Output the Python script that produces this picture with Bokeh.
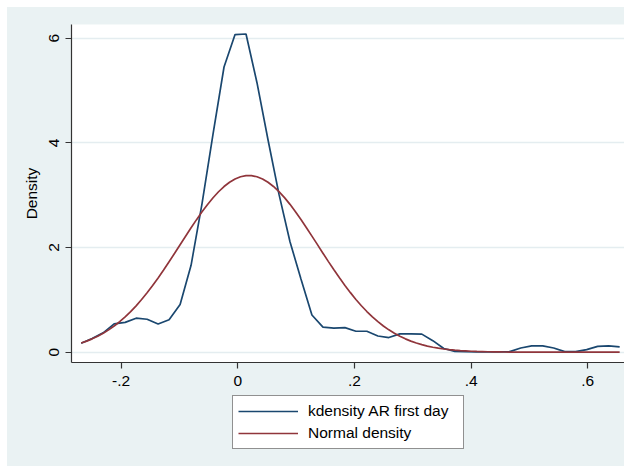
from bokeh.plotting import figure
from bokeh.layouts import column
from bokeh.models import FixedTicker, Legend, LegendItem, Range1d
from bokeh.embed import file_html
from bokeh.resources import INLINE

# ---- data ----
x_grid = [-0.2685, -0.2497, -0.2308, -0.2120, -0.1931, -0.1743, -0.1555, -0.1366, -0.1178, -0.0989,
          -0.0801, -0.0613, -0.0424, -0.0236, -0.0047, 0.0141, 0.0329, 0.0518, 0.0706, 0.0895,
          0.1083, 0.1271, 0.1460, 0.1648, 0.1837, 0.2025, 0.2213, 0.2402, 0.2590, 0.2779,
          0.2967, 0.3155, 0.3344, 0.3532, 0.3721, 0.3909, 0.4097, 0.4286, 0.4474, 0.4663,
          0.4851, 0.5039, 0.5228, 0.5416, 0.5605, 0.5793, 0.5981, 0.6170, 0.6358, 0.6547]

kdensity_ar = [0.17, 0.26, 0.37, 0.54, 0.57, 0.65, 0.63, 0.54, 0.62, 0.91,
               1.66, 2.84, 4.17, 5.45, 6.07, 6.08, 5.15, 4.06, 3.02, 2.11,
               1.40, 0.71, 0.48, 0.46, 0.47, 0.40, 0.40, 0.31, 0.28, 0.35,
               0.35, 0.345, 0.22, 0.07, 0.015, 0.008, 0.006, 0.005, 0.005, 0.01,
               0.08, 0.12, 0.12, 0.08, 0.01, 0.01, 0.05, 0.11, 0.12, 0.10]

x_normal = [-0.2685, -0.2591, -0.2497, -0.2402, -0.2308, -0.2214, -0.2120, -0.2025, -0.1931, -0.1837,
            -0.1743, -0.1649, -0.1555, -0.1460, -0.1366, -0.1272, -0.1178, -0.1083, -0.0989, -0.0895,
            -0.0801, -0.0707, -0.0613, -0.0518, -0.0424, -0.0330, -0.0236, -0.0141, -0.0047, 0.0047,
            0.0141, 0.0235, 0.0329, 0.0424, 0.0518, 0.0612, 0.0706, 0.0801, 0.0895, 0.0989,
            0.1083, 0.1177, 0.1271, 0.1366, 0.1460, 0.1554, 0.1648, 0.1743, 0.1837, 0.1931,
            0.2025, 0.2119, 0.2213, 0.2308, 0.2402, 0.2496, 0.2590, 0.2685, 0.2779, 0.2873,
            0.2967, 0.3061, 0.3155, 0.3250, 0.3344, 0.3438, 0.3532, 0.3627, 0.3721, 0.3815,
            0.3909, 0.4003, 0.4097, 0.4192, 0.4286, 0.4380, 0.4474, 0.4569, 0.4663, 0.4757,
            0.4851, 0.4945, 0.5039, 0.5134, 0.5228, 0.5322, 0.5416, 0.5511, 0.5605, 0.5699,
            0.5793, 0.5887, 0.5981, 0.6076, 0.6170, 0.6264, 0.6358, 0.6453, 0.6547]

normal_density = [0.175, 0.212, 0.255, 0.304, 0.361, 0.426, 0.500, 0.582, 0.674, 0.775,
                  0.886, 1.006, 1.136, 1.274, 1.419, 1.571, 1.729, 1.890, 2.053, 2.216,
                  2.377, 2.533, 2.683, 2.823, 2.951, 3.066, 3.166, 3.247, 3.310, 3.353,
                  3.374, 3.374, 3.353, 3.311, 3.248, 3.167, 3.068, 2.953, 2.825, 2.685,
                  2.535, 2.379, 2.218, 2.055, 1.892, 1.731, 1.574, 1.422, 1.276, 1.138,
                  1.008, 0.888, 0.777, 0.675, 0.583, 0.501, 0.427, 0.362, 0.305, 0.255,
                  0.212, 0.175, 0.144, 0.117, 0.095, 0.077, 0.061, 0.049, 0.039, 0.030,
                  0.024, 0.018, 0.014, 0.011, 0.008, 0.006, 0.005, 0.0035, 0.0026, 0.0019,
                  0.0014, 0.0010, 0.0007, 0.0005, 0.0004, 0.0003, 0.0002, 0.0001, 0.0001, 0.0,
                  0.0, 0.0, 0.0, 0.0, 0.0, 0.0, 0.0, 0.0, 0.0]

x_ticks = [-0.2, 0.0, 0.2, 0.4, 0.6]
x_tick_labels = ["-.2", "0", ".2", ".4", ".6"]
y_ticks = [0, 2, 4, 6]
y_tick_labels = ["0", "2", "4", "6"]
series_names = ["kdensity AR first day", "Normal density"]

n1 = min(len(x_grid), len(kdensity_ar))
n2 = min(len(x_normal), len(normal_density))

NAVY = "#1a476f"
MAROON = "#90353b"
BG = "#eaf2f3"
AX = "#333333"
FONT = "Liberation Sans"
FS = "15.5px"
LW = 1.7

# ---- main plot ----
p = figure(width=617, height=387, output_backend="svg", toolbar_location=None,
           x_range=Range1d(-0.2851, 0.6630), y_range=Range1d(-0.197, 6.262),
           min_border_left=64, min_border_right=0, min_border_top=17, min_border_bottom=32)
p.border_fill_color = BG
p.background_fill_color = "white"
p.outline_line_color = None

p.line(x_grid[:n1], kdensity_ar[:n1], line_color=NAVY, line_width=LW)
p.line(x_normal[:n2], normal_density[:n2], line_color=MAROON, line_width=LW)

p.xaxis.ticker = FixedTicker(ticks=x_ticks)
p.xaxis.major_label_overrides = {t: l for t, l in zip(x_ticks, x_tick_labels)}
p.yaxis.ticker = FixedTicker(ticks=y_ticks)
p.yaxis.major_label_overrides = {t: l for t, l in zip(y_ticks, y_tick_labels)}
p.yaxis.axis_label = "Density"
p.yaxis.major_label_orientation = "parallel"
for ax in (p.xaxis, p.yaxis):
    ax.axis_line_color = AX
    ax.axis_line_width = 1.2
    ax.major_tick_line_color = AX
    ax.major_tick_line_width = 1.2
    ax.major_tick_in = 0
    ax.major_tick_out = 6
    ax.minor_tick_line_color = None
    ax.major_label_text_font = FONT
    ax.major_label_text_font_size = FS
    ax.major_label_text_color = "black"
    ax.axis_label_text_font = FONT
    ax.axis_label_text_font_size = FS
    ax.axis_label_text_font_style = "normal"
    ax.axis_label_text_color = "black"
p.xaxis.major_label_standoff = 7
p.yaxis.major_label_standoff = 6
p.yaxis.axis_label_standoff = 7

p.xgrid.grid_line_color = None
p.ygrid.grid_line_color = "#e4edf0"
p.ygrid.grid_line_width = 1.3

# ---- legend strip (same series, drawn out of view so only the legend shows) ----
q = figure(width=617, height=76, output_backend="svg", toolbar_location=None,
           x_range=Range1d(10, 11), y_range=Range1d(10, 11),
           min_border_left=0, min_border_right=0, min_border_top=0, min_border_bottom=0)
q.margin = (-4, 0, 0, 0)
q.axis.visible = False
q.grid.visible = False
q.border_fill_color = BG
q.background_fill_color = BG
q.outline_line_color = None
l1 = q.line(x_grid[:n1], kdensity_ar[:n1], line_color=NAVY, line_width=LW)
l2 = q.line(x_normal[:n2], normal_density[:n2], line_color=MAROON, line_width=LW)

legend = Legend(items=[LegendItem(label=series_names[0], renderers=[l1]),
                       LegendItem(label=series_names[1], renderers=[l2])],
                location=(161, 17), orientation="vertical")
legend.background_fill_color = "white"
legend.background_fill_alpha = 1.0
legend.border_line_color = "#222222"
legend.border_line_width = 1
legend.padding = 5
legend.margin = 0
legend.spacing = 2
legend.glyph_width = 60
legend.glyph_height = 20
legend.label_height = 20
legend.label_width = 150
legend.label_standoff = 10
legend.label_text_font = FONT
legend.label_text_font_size = FS
legend.label_text_color = "black"
q.add_layout(legend, "center")

layout = column(p, q, spacing=0)
layout.margin = (7, 0, 0, 7)
layout.styles = {"background-color": BG}

open("out.html", "w").write(file_html(layout, INLINE))
